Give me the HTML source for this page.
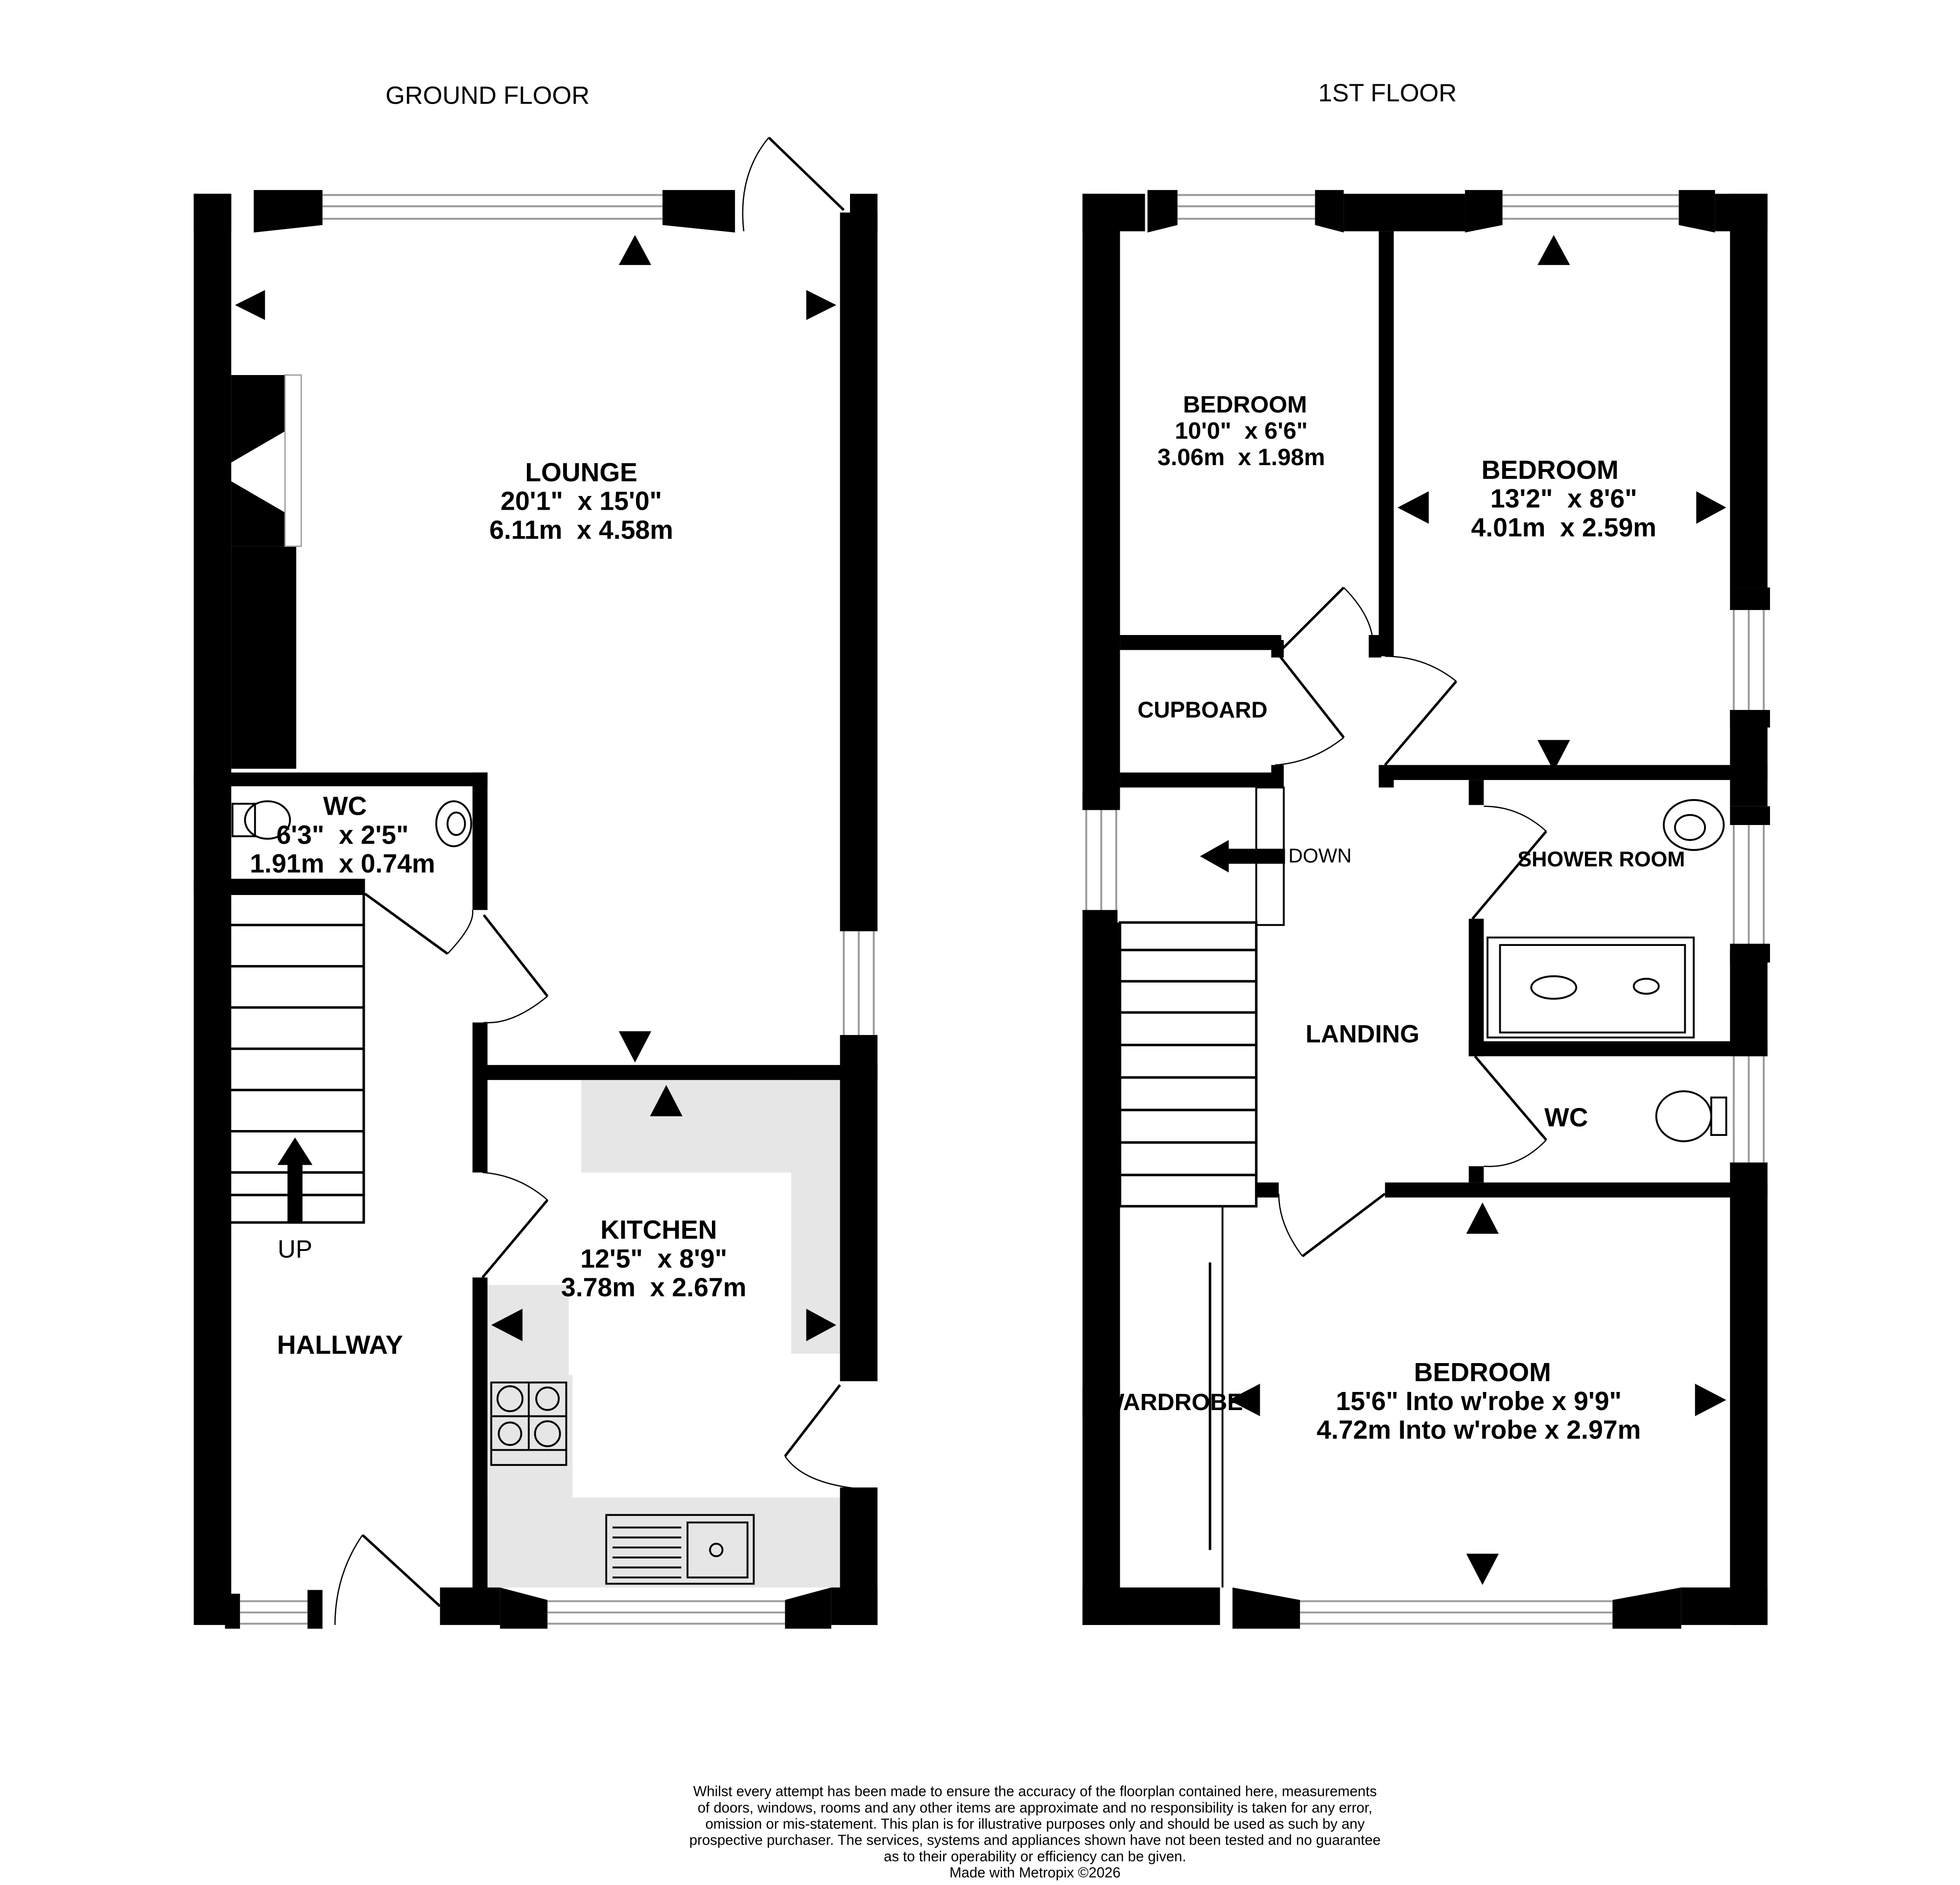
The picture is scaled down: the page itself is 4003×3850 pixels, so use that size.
<!DOCTYPE html>
<html><head><meta charset="utf-8"><style>
html,body{margin:0;padding:0;background:#fff}
svg{display:block}
.t{font-family:"Liberation Sans Narrow","Liberation Sans",sans-serif;font-weight:bold;text-anchor:middle;fill:#000;white-space:pre}
.h{font-family:"Liberation Sans",sans-serif;font-size:20px;text-anchor:middle;fill:#000}
.s{font-family:"Liberation Sans",sans-serif;font-size:11.5px;text-anchor:middle;fill:#000}
</style></head><body>
<svg width="4003" height="3850" viewBox="0 0 1568 1508" xmlns="http://www.w3.org/2000/svg">
<rect width="1568" height="1508" fill="#fff"/>
<text class="h" x="390" y="83">GROUND FLOOR</text>
<text class="h" x="1110" y="81">1ST FLOOR</text>

<g fill="#e6e6e6">
<rect x="465" y="864" width="207" height="74"/>
<rect x="633" y="864" width="39" height="219"/>
<rect x="390" y="1028" width="65" height="72"/>
<rect x="390" y="1100" width="68" height="170"/>
<rect x="390" y="1198" width="282" height="72"/>
</g>
<g fill="#000">
<rect x="155" y="155" width="30" height="30"/>
<polygon points="203,152 258,152 258,180 203,186"/>
<polygon points="530,152 588,152 588,186 530,180"/>
<rect x="680" y="155" width="22" height="30"/>
<rect x="155" y="155" width="30" height="1145"/>
<rect x="672" y="170" width="30" height="575"/>
<rect x="672" y="828" width="30" height="277"/>
<rect x="672" y="1190" width="30" height="110"/>
<rect x="180" y="1275" width="12" height="28"/>
<rect x="246" y="1272" width="12" height="31"/>
<rect x="352" y="1270" width="48" height="30"/>
<polygon points="400,1270 438,1280 438,1303 400,1303"/>
<polygon points="628,1280 665,1270 665,1303 628,1303"/>
<rect x="665" y="1270" width="37" height="30"/>
<rect x="155" y="618" width="235" height="11"/>
<rect x="378" y="618" width="12" height="110"/>
<rect x="155" y="703" width="137" height="12"/>
<rect x="378" y="852" width="324" height="12"/>
<rect x="378" y="818" width="12" height="120"/>
<rect x="378" y="1022" width="12" height="250"/>
<rect x="185" y="437" width="52" height="178"/>
<polygon points="185,300 228,300 228,345 185,370"/>
<polygon points="185,385 228,410 228,437 185,437"/>
</g>
<rect x="228" y="300" width="13" height="137" fill="none" stroke="#999" stroke-width="1"/>
<g stroke="#999" stroke-width="1.5" fill="none">
<line x1="258" y1="156" x2="530" y2="156"/><line x1="258" y1="165" x2="530" y2="165"/><line x1="258" y1="175" x2="530" y2="175"/>
<line x1="675" y1="745" x2="675" y2="828"/><line x1="687" y1="745" x2="687" y2="828"/><line x1="699" y1="745" x2="699" y2="828"/>
<line x1="192" y1="1281" x2="246" y2="1281"/><line x1="192" y1="1290" x2="246" y2="1290"/><line x1="192" y1="1299" x2="246" y2="1299"/>
<line x1="438" y1="1281" x2="628" y2="1281"/><line x1="438" y1="1290" x2="628" y2="1290"/><line x1="438" y1="1299" x2="628" y2="1299"/>
</g>
<g stroke="#000" stroke-width="2" fill="none">
<line x1="615" y1="110" x2="675" y2="168"/><path d="M615,110 Q590,140 595,185" stroke-width="1"/>
<line x1="292" y1="715" x2="358" y2="763"/><path d="M358,763 Q380,740 378,728" stroke-width="1"/>
<line x1="387" y1="732" x2="438" y2="797"/><path d="M438,797 Q410,820 387,818" stroke-width="1"/>
<line x1="386" y1="1022" x2="438" y2="960"/><path d="M438,960 Q415,940 386,938" stroke-width="1"/>
<line x1="290" y1="1228" x2="352" y2="1285"/><path d="M290,1228 Q268,1260 268,1300" stroke-width="1"/>
<line x1="672" y1="1108" x2="628" y2="1165"/><path d="M628,1165 Q645,1190 702,1192" stroke-width="1"/>
</g>
<g stroke="#000" stroke-width="2" fill="none">
<rect x="181" y="715" width="110" height="263"/>
<line x1="181" y1="740" x2="291" y2="740"/><line x1="181" y1="773" x2="291" y2="773"/><line x1="181" y1="806" x2="291" y2="806"/>
<line x1="181" y1="839" x2="291" y2="839"/><line x1="181" y1="872" x2="291" y2="872"/><line x1="181" y1="905" x2="291" y2="905"/>
<line x1="181" y1="938" x2="291" y2="938"/><line x1="181" y1="956" x2="291" y2="956"/>
</g>
<rect x="230" y="930" width="12" height="48" fill="#000"/>
<polygon points="222,932 236,910 250,932" fill="#000"/>
<g stroke="#000" stroke-width="1.5" fill="none">
<rect x="186" y="643" width="18" height="26"/><ellipse cx="214" cy="656" rx="18" ry="15"/>
<ellipse cx="363" cy="659" rx="14" ry="18"/><ellipse cx="365" cy="659" rx="7" ry="9"/>
</g>
<g stroke="#000" stroke-width="1.5" fill="none">
<rect x="393" y="1106" width="60" height="66"/><line x1="393" y1="1160" x2="453" y2="1160"/><line x1="423" y1="1106" x2="423" y2="1160"/><line x1="393" y1="1133" x2="453" y2="1133"/>
<circle cx="408" cy="1119" r="10"/><circle cx="438" cy="1119" r="9"/><circle cx="408" cy="1147" r="9"/><circle cx="438" cy="1147" r="10"/>
<rect x="485" y="1212" width="118" height="55"/><rect x="550" y="1218" width="48" height="44"/>
<line x1="490" y1="1222" x2="545" y2="1222"/><line x1="490" y1="1230" x2="545" y2="1230"/><line x1="490" y1="1238" x2="545" y2="1238"/><line x1="490" y1="1246" x2="545" y2="1246"/><line x1="490" y1="1254" x2="545" y2="1254"/><line x1="490" y1="1262" x2="545" y2="1262"/>
<circle cx="573" cy="1240" r="5"/>
</g>
<g fill="#000">
<polygon points="495,212 508,188 521,212"/>
<polygon points="212,232 188,244 212,256"/>
<polygon points="645,232 669,244 645,256"/>
<polygon points="495,825 508,850 521,825"/>
<polygon points="520,893 533,868 546,893"/>
<polygon points="418,1047 393,1060 418,1073"/>
<polygon points="645,1047 669,1060 645,1073"/>
</g>
<text class="t" x="465" y="385" font-size="21">LOUNGE</text>
<text class="t" x="465" y="408" font-size="21">20'1"  x 15'0"</text>
<text class="t" x="465" y="431" font-size="21">6.11m  x 4.58m</text>
<text class="t" x="276" y="652" font-size="21">WC</text>
<text class="t" x="274" y="675" font-size="21">6'3"  x 2'5"</text>
<text class="t" x="274" y="698" font-size="21">1.91m  x 0.74m</text>
<text class="t" x="236" y="1006" font-size="20" style="font-weight:normal">UP</text>
<text class="t" x="272" y="1083" font-size="21">HALLWAY</text>
<text class="t" x="527" y="991" font-size="21">KITCHEN</text>
<text class="t" x="523" y="1014" font-size="21">12'5"  x 8'9"</text>
<text class="t" x="523" y="1037" font-size="21">3.78m  x 2.67m</text>

<g fill="#000">
<rect x="866" y="155" width="30" height="493"/>
<rect x="866" y="738" width="30" height="562"/>
<rect x="866" y="155" width="50" height="30"/>
<polygon points="918,152 942,152 942,180 918,186"/>
<polygon points="1052,152 1075,152 1075,186 1052,180"/>
<rect x="1075" y="155" width="97" height="30"/>
<polygon points="1172,152 1202,152 1202,180 1172,186"/>
<polygon points="1343,152 1372,152 1372,186 1343,180"/>
<rect x="1372" y="155" width="42" height="30"/>
<rect x="1384" y="155" width="30" height="315"/>
<rect x="1384" y="568" width="30" height="77"/>
<rect x="1384" y="760" width="30" height="85"/>
<rect x="1384" y="930" width="30" height="370"/>
<rect x="866" y="1270" width="110" height="30"/>
<polygon points="986,1270 1040,1280 1040,1303 986,1303"/>
<polygon points="1290,1280 1345,1270 1345,1303 1290,1303"/>
<rect x="1345" y="1270" width="69" height="30"/>
<rect x="1103" y="185" width="12" height="340"/>
<rect x="896" y="508" width="129" height="12"/>
<rect x="896" y="618" width="129" height="12"/>
<rect x="1103" y="612" width="311" height="12"/>
<rect x="1175" y="735" width="12" height="110"/>
<rect x="1175" y="833" width="239" height="12"/>
<rect x="1108" y="946" width="306" height="12"/>
<rect x="1005" y="946" width="18" height="12"/>
<rect x="1175" y="624" width="12" height="20"/>
<rect x="1175" y="933" width="12" height="13"/>
</g>
<g stroke="#999" stroke-width="1.5" fill="none">
<line x1="942" y1="156" x2="1052" y2="156"/><line x1="942" y1="165" x2="1052" y2="165"/><line x1="942" y1="175" x2="1052" y2="175"/>
<line x1="1202" y1="156" x2="1343" y2="156"/><line x1="1202" y1="165" x2="1343" y2="165"/><line x1="1202" y1="175" x2="1343" y2="175"/>
<line x1="1040" y1="1281" x2="1290" y2="1281"/><line x1="1040" y1="1290" x2="1290" y2="1290"/><line x1="1040" y1="1299" x2="1290" y2="1299"/>
<line x1="869" y1="648" x2="869" y2="738"/><line x1="881" y1="648" x2="881" y2="738"/><line x1="893" y1="648" x2="893" y2="738"/>
<line x1="1387" y1="488" x2="1387" y2="568"/><line x1="1399" y1="488" x2="1399" y2="568"/><line x1="1411" y1="488" x2="1411" y2="568"/>
<line x1="1387" y1="660" x2="1387" y2="760"/><line x1="1399" y1="660" x2="1399" y2="760"/><line x1="1411" y1="660" x2="1411" y2="760"/>
<line x1="1387" y1="845" x2="1387" y2="930"/><line x1="1399" y1="845" x2="1399" y2="930"/><line x1="1411" y1="845" x2="1411" y2="930"/>
</g>
<g fill="#000">
<rect x="866" y="635" width="28" height="13"/><rect x="866" y="728" width="28" height="12"/>
<rect x="1384" y="470" width="32" height="18"/><rect x="1384" y="568" width="32" height="14"/>
<rect x="1384" y="645" width="32" height="15"/><rect x="1384" y="755" width="32" height="15"/>
</g>
<g stroke="#000" stroke-width="2" fill="none">
<line x1="1025" y1="520" x2="1075" y2="470"/><path d="M1075,470 Q1095,490 1098,510" stroke-width="1"/>
<line x1="1020" y1="520" x2="1075" y2="590"/><path d="M1075,590 Q1050,610 1020,612" stroke-width="1"/>
<line x1="1108" y1="612" x2="1165" y2="545"/><path d="M1165,545 Q1140,525 1108,525" stroke-width="1"/>
<line x1="1178" y1="735" x2="1237" y2="665"/><path d="M1237,665 Q1215,645 1187,645" stroke-width="1"/>
<line x1="1180" y1="845" x2="1237" y2="912"/><path d="M1237,912 Q1215,935 1187,933" stroke-width="1"/>
<line x1="1108" y1="955" x2="1042" y2="1005"/><path d="M1042,1005 Q1023,980 1023,955" stroke-width="1"/>
<rect x="1005" y="630" width="22" height="110" stroke-width="1.5"/>
<line x1="968" y1="1010" x2="968" y2="1240"/>
<line x1="978" y1="965" x2="978" y2="1270" stroke-width="1.5"/>
</g>
<g fill="#000">
<rect x="1017" y="512" width="10" height="14"/><rect x="1095" y="508" width="10" height="18"/>
<rect x="1017" y="612" width="10" height="18"/><rect x="1103" y="612" width="12" height="18"/>
</g>
<g stroke="#000" stroke-width="2" fill="none">
<rect x="896" y="738" width="109" height="227"/>
<line x1="896" y1="760" x2="1005" y2="760"/><line x1="896" y1="785" x2="1005" y2="785"/><line x1="896" y1="810" x2="1005" y2="810"/>
<line x1="896" y1="836" x2="1005" y2="836"/><line x1="896" y1="862" x2="1005" y2="862"/><line x1="896" y1="888" x2="1005" y2="888"/>
<line x1="896" y1="914" x2="1005" y2="914"/><line x1="896" y1="940" x2="1005" y2="940"/>
</g>
<rect x="980" y="679" width="48" height="12" fill="#000"/>
<polygon points="983,672 960,685 983,698" fill="#000"/>
<g stroke="#000" stroke-width="1.5" fill="none">
<rect x="1190" y="750" width="165" height="80"/><rect x="1200" y="756" width="148" height="70"/>
<ellipse cx="1243" cy="790" rx="18" ry="9"/><ellipse cx="1317" cy="789" rx="10" ry="6"/>
<ellipse cx="1355" cy="660" rx="24" ry="20"/><ellipse cx="1352" cy="662" rx="12" ry="10"/>
<ellipse cx="1347" cy="893" rx="22" ry="20"/><rect x="1369" y="878" width="12" height="30"/>
</g>
<g fill="#000">
<polygon points="1230,212 1243,188 1256,212"/>
<polygon points="1143,393 1118,406 1143,419"/>
<polygon points="1357,393 1381,406 1357,419"/>
<polygon points="1230,592 1243,617 1256,592"/>
<polygon points="1173,987 1186,962 1199,987"/>
<polygon points="1008,1107 983,1120 1008,1133"/>
<polygon points="1356,1107 1381,1120 1356,1133"/>
<polygon points="1173,1243 1186,1268 1199,1243"/>
</g>
<text class="t" x="996" y="330" font-size="19">BEDROOM</text>
<text class="t" x="993" y="351" font-size="19">10'0"  x 6'6"</text>
<text class="t" x="993" y="372" font-size="19">3.06m  x 1.98m</text>
<text class="t" x="1240" y="383" font-size="21">BEDROOM</text>
<text class="t" x="1251" y="406" font-size="21">13'2"  x 8'6"</text>
<text class="t" x="1251" y="429" font-size="21">4.01m  x 2.59m</text>
<text class="t" x="962" y="574" font-size="18">CUPBOARD</text>
<text x="1056" y="690" font-family="Liberation Sans Narrow, Liberation Sans, sans-serif" font-size="16" text-anchor="middle">DOWN</text>
<text class="t" x="1281" y="693" font-size="17">SHOWER ROOM</text>
<text class="t" x="1090" y="834" font-size="20">LANDING</text>
<text class="t" x="1253" y="901" font-size="21">WC</text>
<text class="t" x="1186" y="1105" font-size="21">BEDROOM</text>
<text class="t" x="1183" y="1128" font-size="21">15'6" Into w'robe x 9'9"</text>
<text class="t" x="1183" y="1151" font-size="21">4.72m Into w'robe x 2.97m</text>
<text class="t" x="938" y="1128" font-size="19">WARDROBE</text>
<rect x="866" y="1110" width="30" height="25" fill="#000"/>

<text class="s" x="828" y="1437">Whilst every attempt has been made to ensure the accuracy of the floorplan contained here, measurements</text>
<text class="s" x="828" y="1450">of doors, windows, rooms and any other items are approximate and no responsibility is taken for any error,</text>
<text class="s" x="828" y="1463">omission or mis-statement. This plan is for illustrative purposes only and should be used as such by any</text>
<text class="s" x="828" y="1476">prospective purchaser. The services, systems and appliances shown have not been tested and no guarantee</text>
<text class="s" x="828" y="1489">as to their operability or efficiency can be given.</text>
<text class="s" x="828" y="1502">Made with Metropix ©2026</text>
</svg>
</body></html>
